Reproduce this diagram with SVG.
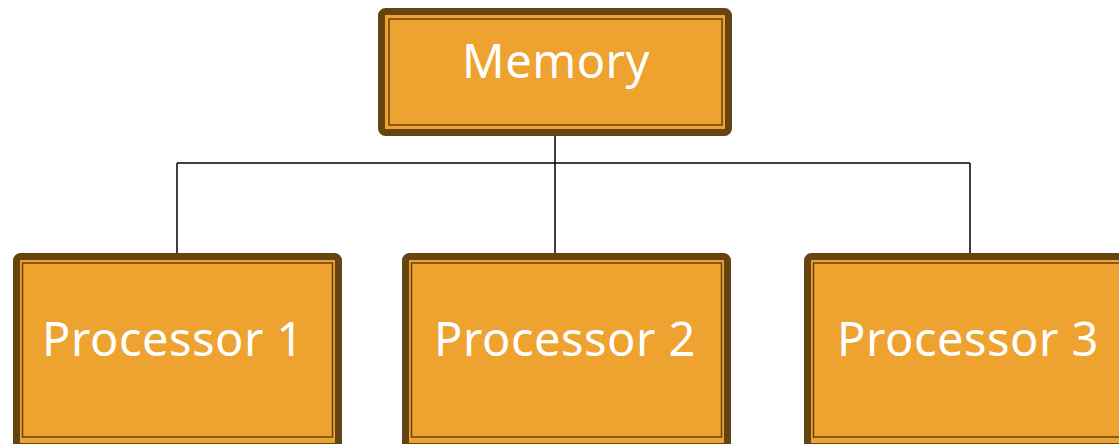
<svg xmlns="http://www.w3.org/2000/svg" width="1119" height="444" viewBox="0 0 1119 444">
<style>
.outer{fill:#EEA22F;stroke:#654411;stroke-width:7;}
.inner{fill:none;stroke:#654411;stroke-width:1.5;}
.lbl{font-family:"Noto Sans","Open Sans",sans-serif;font-size:47px;fill:#FFFFFF;text-anchor:middle;letter-spacing:0.5px;}
.conn{stroke:#000000;stroke-width:1.5;fill:none;}
</style>
<rect width="1119" height="444" fill="#FFFFFF"/>
<g id="connectors">
<path class="conn" d="M555 132 V163 M177 163 H970 M177 163 V257 M555 163 V257 M970 163 V257"/>
</g>
<g id="memory">
<rect class="outer" x="381.5" y="11.5" width="347" height="121" rx="4"/>
<rect class="inner" x="389" y="19" width="333" height="106"/>
<text class="lbl" x="556" y="78">Memory</text>
</g>
<g id="processor1">
<rect class="outer" x="16.5" y="256.5" width="322" height="190" rx="4"/>
<rect class="inner" x="22.5" y="263" width="310" height="174"/>
<text class="lbl" x="173" y="356">Processor 1</text>
</g>
<g id="processor2">
<rect class="outer" x="405.5" y="256.5" width="322" height="190" rx="4"/>
<rect class="inner" x="411.5" y="263" width="310" height="174"/>
<text class="lbl" x="565" y="356">Processor 2</text>
</g>
<g id="processor3">
<rect class="outer" x="807.5" y="256.5" width="322" height="190" rx="4"/>
<rect class="inner" x="813.5" y="263" width="310" height="174"/>
<text class="lbl" x="968" y="356">Processor 3</text>
</g>
</svg>
